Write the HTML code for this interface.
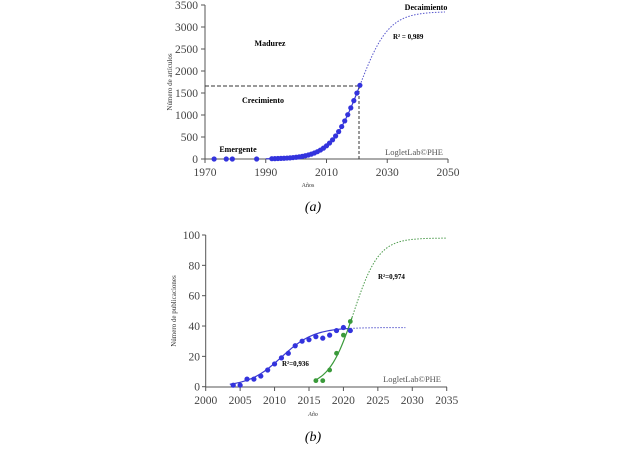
<!DOCTYPE html><html><head><style>body{margin:0;background:#fff}svg{font-family:"Liberation Serif",serif}</style></head><body>
<svg id="s" width="627" height="457" xmlns="http://www.w3.org/2000/svg"></svg>
<script>
var s=document.getElementById('s'),h='';
function L(x1,y1,x2,y2,c,w,d){h+=`<line x1="${x1}" y1="${y1}" x2="${x2}" y2="${y2}" stroke="${c}" stroke-width="${w||1}" ${d?'stroke-dasharray="'+d+'"':''}/>`}
function T(x,y,t,o){h+=`<text x="${x}" y="${y}" ${o||''}>${t}</text>`}
function C(x,y,r,c){h+=`<circle cx="${x}" cy="${y}" r="${r}" fill="${c}"/>`}
function P(pts,c,w,d){h+=`<polyline fill="none" points="${pts.map(p=>p.join(',')).join(' ')}" stroke="${c}" stroke-width="${w}" ${d?'stroke-dasharray="'+d+'"':''}/>`}
// chart a
var ax=y=>205+(y-1970)*3.0375, ay=v=>159-v*0.044;
L(205,5,205,159,'#555');L(205,159,448,159,'#555');
for(var v=0;v<=3500;v+=500){L(201,ay(v),205,ay(v),'#555');T(198,ay(v)+4,v,'text-anchor="end" font-size="11.5" fill="#444"')}
for(var y=1970;y<=2050;y+=20){L(ax(y),159,ax(y),163,'#555');T(ax(y),176,y,'text-anchor="middle" font-size="11.5" fill="#444"')}
T(308,187,'Años','text-anchor="middle" font-size="6" fill="#333"');
T(172,82,'Número de artículos','text-anchor="middle" font-size="7" fill="#333" transform="rotate(-90 172 82)"');
var fa=t=>3350/(1+Math.exp(-0.211*(t-2021)));
var p1=[],p2=[];for(var t=1990;t<=2021;t+=0.25)p1.push([ax(t),ay(fa(t))]);for(t=2021;t<=2049;t+=0.25)p2.push([ax(t),ay(fa(t))]);
P(p1,'#3a3ad0',1.2);P(p2,'#5555cc',1,'1.5,1.5');
L(205,86,359,86,'#333',1,'4,2');L(359,86,359,159,'#333',1,'3,2');
[1973,1977,1979,1987].forEach(t=>C(ax(t),159,2.6,'#3333dd'));
for(t=1992;t<=2021;t++)C(ax(t),ay(fa(t)),2.6,'#3333dd');
T(270,46,'Madurez','text-anchor="middle" font-size="8" font-weight="bold"');
T(263,103,'Crecimiento','text-anchor="middle" font-size="8" font-weight="bold"');
T(238,152,'Emergente','text-anchor="middle" font-size="8" font-weight="bold"');
T(426,10,'Decaimiento','text-anchor="middle" font-size="8" font-weight="bold"');
T(393,39,'R² = 0,989','font-size="7" font-weight="bold"');
T(443,155,'LogletLab©PHE','text-anchor="end" font-size="8.5" fill="#555"');
T(313,211,'(a)','text-anchor="middle" font-size="14" font-style="italic"');
// chart b
var bx=y=>205.7+(y-2000)*6.886, by=v=>386.7-v*1.517;
L(205.7,235,205.7,387,'#555');L(205.7,387,447,387,'#555');
for(v=0;v<=100;v+=20){L(202,by(v),205.7,by(v),'#555');T(200,by(v)+4,v,'text-anchor="end" font-size="11.5" fill="#444"')}
for(y=2000;y<=2035;y+=5){L(bx(y),387,bx(y),391,'#555');T(bx(y),404,y,'text-anchor="middle" font-size="11.5" fill="#444"')}
T(313,416,'Año','text-anchor="middle" font-size="6" fill="#333" font-style="italic"');
T(176,311,'Número de publicaciones','text-anchor="middle" font-size="7" fill="#333" transform="rotate(-90 176 311)"');
var fb=t=>39/(1+Math.exp(-0.42*(t-2011))), fg=t=>98/(1+Math.exp(-0.55*(t-2021.5)));
p1=[];p2=[];for(t=2003.5;t<=2021;t+=0.25)p1.push([bx(t),by(fb(t))]);for(t=2021;t<=2029;t+=0.25)p2.push([bx(t),by(fb(t))]);
P(p1,'#3a3ad0',1.2);P(p2,'#5555cc',1,'1.5,1.5');
var g1=[],g2=[];for(t=2016;t<=2021.25;t+=0.25)g1.push([bx(t),by(fg(t))]);for(t=2021.25;t<=2035;t+=0.25)g2.push([bx(t),by(fg(t))]);
P(g1,'#3a9a3a',1.2);P(g2,'#4a9a4a',1,'1.5,1.5');
[[2004,1],[2005,1],[2006,5],[2007,5],[2008,7],[2009,11],[2010,15],[2011,19],[2012,22],[2013,27],[2014,30],[2015,31],[2016,33],[2017,32],[2018,34],[2019,37],[2020,39],[2021,37]].forEach(d=>C(bx(d[0]),by(d[1]),2.6,'#3333dd'));
[[2016,4],[2017,4],[2018,11],[2019,22],[2020,34],[2021,43]].forEach(d=>C(bx(d[0]),by(d[1]),2.4,'#3a9a3a'));
T(282,366,'R²=0,936','font-size="7" font-weight="bold"');
T(378,279,'R²=0,974','font-size="7" font-weight="bold"');
T(441,382,'LogletLab©PHE','text-anchor="end" font-size="8.5" fill="#555"');
T(313,441,'(b)','text-anchor="middle" font-size="14" font-style="italic"');
s.innerHTML=h;
</script></body></html>
